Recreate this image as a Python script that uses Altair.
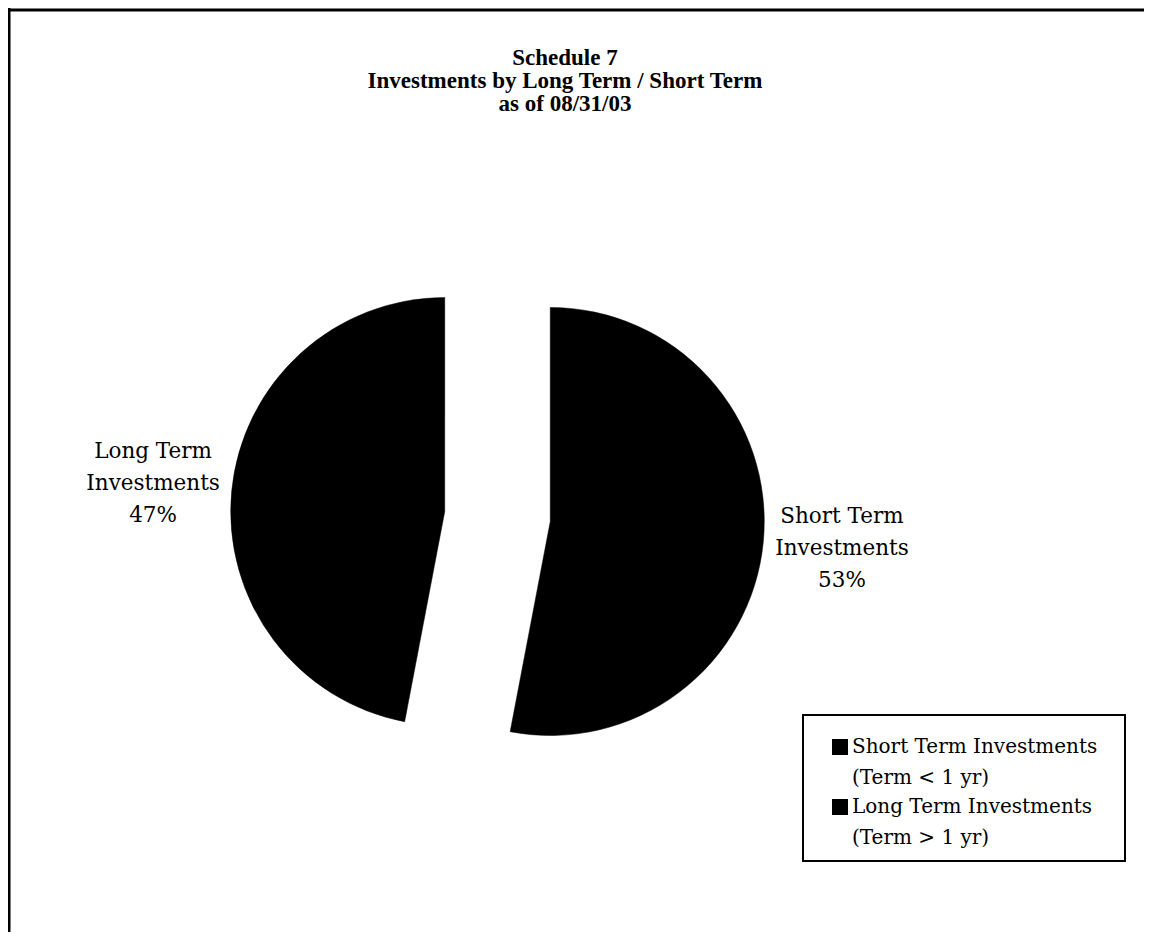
import altair as alt
import pandas as pd

# ---- data ----
title_lines = ["Schedule 7", "Investments by Long Term / Short Term", "as of 08/31/03"]
categories = ["Short Term Investments", "Long Term Investments"]
terms = ["(Term < 1 yr)", "(Term > 1 yr)"]
values = [53, 47]

total = sum(values)
df = pd.DataFrame({
    "category": categories,
    "term": terms,
    "value": values,
    "order": list(range(len(categories))),
})
df["label"] = [c.replace(" Investments", "\nInvestments") + "\n" + f"{round(v / total * 100)}%"
               for c, v in zip(categories, values)]
df["legend_label"] = [c + "\n" + t for c, t in zip(categories, terms)]

# ---- layout constants (pixels) ----
W, H = 1136, 924
CX, CY = 489.5, 508.5
R = 214
EXPLODE = 53
LABEL_R = 346
LABEL_LH = 32

base = (
    alt.Chart(df)
    .transform_joinaggregate(total="sum(value)")
    .transform_window(cum="sum(value)", sort=[alt.SortField("order")])
    .transform_calculate(
        start="2*PI*(datum.cum - datum.value)/datum.total",
        end="2*PI*datum.cum/datum.total",
    )
    .transform_calculate(mid="(datum.start + datum.end)/2")
    .transform_calculate(
        px=f"{CX} + {EXPLODE}*sin(datum.mid)",
        py=f"{CY} - {EXPLODE}*cos(datum.mid)",
        lx=f"{CX} + {LABEL_R}*sin(datum.mid)",
        ly=f"{CY} - {LABEL_R}*cos(datum.mid)",
    )
)

pie = base.mark_arc(radius=R, fill="black", stroke="black", strokeWidth=0.5).encode(
    theta=alt.Theta("start:Q", scale=None),
    theta2="end:Q",
    x=alt.X("px:Q", scale=None),
    y=alt.Y("py:Q", scale=None),
)

# three-line labels, centred on their anchor point
labels = base.mark_text(
    font="DejaVu Serif", fontSize=21.5, lineBreak="\n", lineHeight=LABEL_LH,
    align="center", baseline="middle", dy=-LABEL_LH, color="black",
).encode(
    x=alt.X("lx:Q", scale=None),
    y=alt.Y("ly:Q", scale=None),
    text="label:N",
)

# ---- legend ----
legend_box = alt.Chart(alt.Data(values=[{}])).mark_rect(
    fill="white", stroke="black", strokeWidth=2
).encode(x=alt.value(795), x2=alt.value(1117), y=alt.value(707), y2=alt.value(853))

legend_y = alt.Y(
    "category:N", sort=categories,
    scale=alt.Scale(type="point", range=[739, 799], padding=0), axis=None,
)

legend_sym = alt.Chart(df).mark_square(size=256, color="black", opacity=1, filled=True).encode(
    x=alt.value(832), y=legend_y,
)

legend_txt = alt.Chart(df).mark_text(
    font="DejaVu Serif", fontSize=20, lineBreak="\n", lineHeight=31,
    align="left", baseline="middle", color="black",
).encode(x=alt.value(844), y=legend_y, text="legend_label:N")

# ---- frame lines (top and left edges) ----
frame_left = alt.Chart(alt.Data(values=[{}])).mark_rule(color="black", strokeWidth=3).encode(
    x=alt.value(1), y=alt.value(0), y2=alt.value(H)
)
frame_top = alt.Chart(alt.Data(values=[{}])).mark_rule(color="black", strokeWidth=3).encode(
    x=alt.value(0), x2=alt.value(W), y=alt.value(2)
)

chart = (
    alt.layer(frame_left, frame_top, pie, labels, legend_box, legend_sym, legend_txt)
    .resolve_scale(x="independent", y="independent")
    .properties(
        width=W, height=H, padding=0,
        autosize=alt.AutoSizeParams(type="none"),
        background="white",
        title=alt.TitleParams(
            text=title_lines, font="Liberation Serif", fontSize=23, fontWeight="bold",
            color="black", anchor="middle", frame="group", baseline="top",
            offset=0, dy=109, dx=-11, lineHeight=23,
        ),
    )
    .configure_view(stroke="transparent")
)

chart.save("out.html", embed_options={"renderer": "svg", "actions": False})
